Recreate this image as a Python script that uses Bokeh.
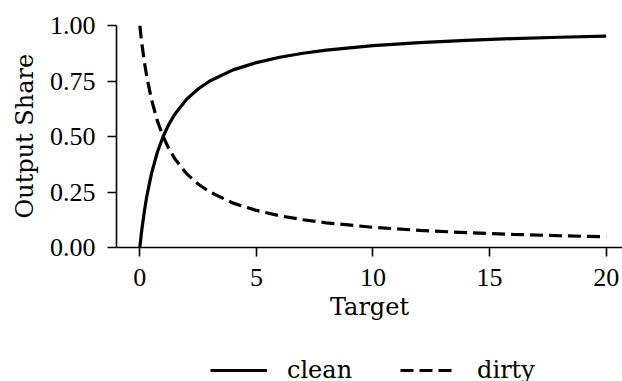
from bokeh.plotting import figure
from bokeh.models import (Range1d, FixedTicker, PrintfTickFormatter, Legend, LegendItem, Title)
from bokeh.embed import file_html
from bokeh.resources import INLINE

# Output shares against the target level
target = [0, 0.05, 0.1, 0.2, 0.3, 0.5, 0.75, 1, 1.25, 1.5, 2, 2.5, 3, 4, 5, 6, 7, 8,
          10, 12, 14, 16, 18, 20]
clean = [0.00, 0.048, 0.091, 0.167, 0.231, 0.333, 0.429, 0.500, 0.556, 0.600, 0.667,
         0.714, 0.750, 0.800, 0.833, 0.857, 0.875, 0.889, 0.909, 0.923, 0.933, 0.941,
         0.947, 0.952]
dirty = [1.00, 0.952, 0.909, 0.833, 0.769, 0.667, 0.571, 0.500, 0.444, 0.400, 0.333,
         0.286, 0.250, 0.200, 0.167, 0.143, 0.125, 0.111, 0.091, 0.077, 0.067, 0.059,
         0.053, 0.048]
x_ticks = [0, 5, 10, 15, 20]
y_ticks = [0, 0.25, 0.5, 0.75, 1.0]

TICK_FONT = "Liberation Serif"
TICK_FS = "26px"
LABEL_FONT = "DejaVu Serif"
LABEL_FS = "24px"

# The frame runs down to the bottom of the page so the legend can sit under
# the axes; the x axis is pinned at y = 0 and the y axis is bounded to [0, 1].
p = figure(width=622, height=381, output_backend="svg", toolbar_location=None,
           x_range=Range1d(-1, 20.7), y_range=Range1d(-0.6036, 1),
           min_border_left=116, min_border_right=0, min_border_top=25,
           min_border_bottom=0)
p.outline_line_color = None
p.xgrid.visible = False
p.ygrid.visible = False
p.background_fill_color = "white"
p.border_fill_color = "white"

r_clean = p.line(target, clean, line_color="black", line_width=3.2)
r_dirty = p.line(target, dirty, line_color="black", line_width=3.2, line_dash="13 6")

for ax in (p.xaxis[0], p.yaxis[0]):
    ax.axis_line_width = 1.6
    ax.major_tick_line_width = 1.6
    ax.major_tick_out = 9
    ax.major_tick_in = 0
    ax.minor_tick_out = 0
    ax.minor_tick_in = 0
    ax.major_label_text_font = TICK_FONT
    ax.major_label_text_font_size = TICK_FS
    ax.major_label_text_color = "black"
    ax.axis_label_text_font = LABEL_FONT
    ax.axis_label_text_font_size = LABEL_FS
    ax.axis_label_text_font_style = "normal"
    ax.axis_label_text_color = "black"

p.xaxis.fixed_location = 0
p.yaxis.bounds = (0, 1)
p.xaxis.ticker = FixedTicker(ticks=x_ticks)
p.yaxis.ticker = FixedTicker(ticks=y_ticks)
p.yaxis.formatter = PrintfTickFormatter(format="%.2f")
p.xaxis.axis_label = "Target"
p.xaxis.major_label_standoff = 12
p.yaxis.major_label_standoff = 12
p.xaxis.axis_label_standoff = 4

# y-axis title, lifted from the bottom of the frame so it centres on [0, 1]
p.add_layout(Title(text="Output Share", align="left", offset=163, standoff=15,
                   text_font=LABEL_FONT, text_font_size=LABEL_FS,
                   text_font_style="normal", text_color="black"), "left")

legend = Legend(items=[LegendItem(label="clean", renderers=[r_clean]),
                       LegendItem(label="dirty", renderers=[r_dirty])],
                orientation="horizontal", location=(94, -3),
                glyph_width=57, glyph_height=22, label_standoff=20,
                label_width=65, spacing=48, padding=0, margin=0,
                label_text_font=LABEL_FONT, label_text_font_size=LABEL_FS,
                label_text_color="black",
                border_line_alpha=0, background_fill_alpha=0)
p.add_layout(legend, "center")

open("out.html", "w").write(file_html(p, INLINE))
